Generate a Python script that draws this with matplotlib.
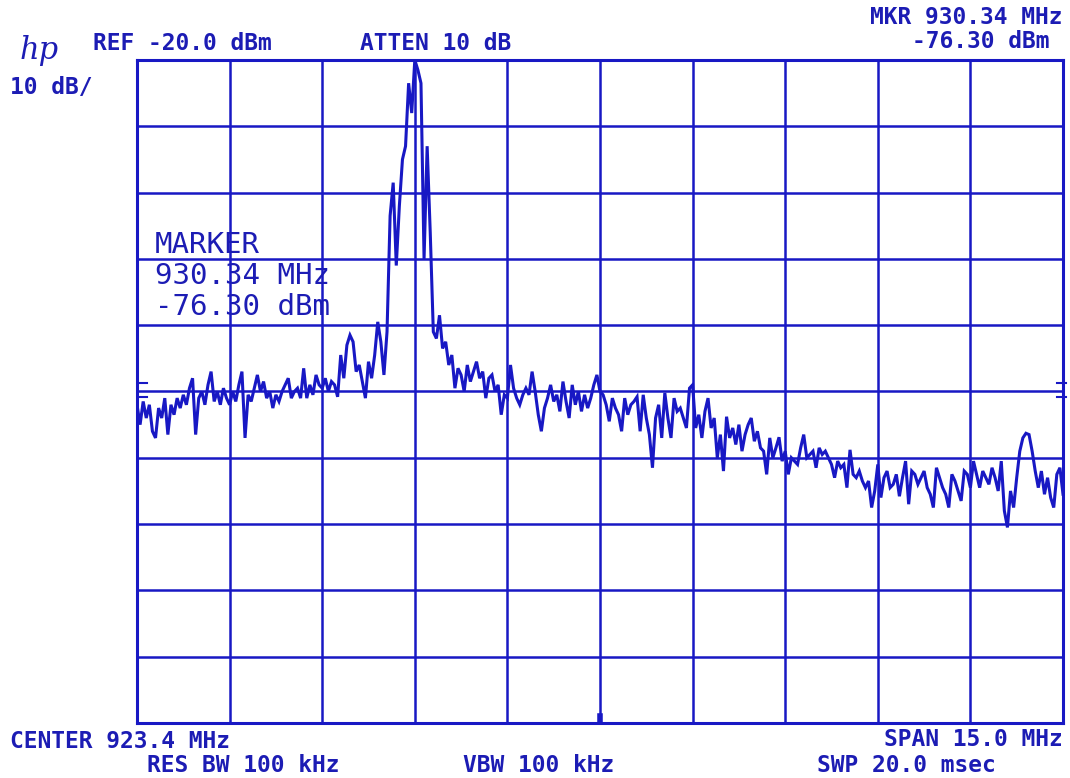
import numpy as np
import matplotlib.pyplot as plt

# analyzer settings
center_mhz = 923.4
span_mhz = 15.0
ref_dbm = -20.0
db_per_div = 10.0
n_div = 10

# trace, 301 points across the span, dBm
trace_dbm = [
    # div 0
    -72, -75, -71.5, -74, -72, -76, -77, -72.5, -74, -71,
    -76.5, -72, -73.5, -71, -72.5, -70.5, -72, -69.5, -68, -76.5,
    -71, -70, -72, -69, -67, -71.5, -70, -72, -69.5, -71,
    # div 1
    -72, -70, -71.5, -69, -67, -77, -70.5, -71.5, -69.5, -67.5,
    -70, -68.5, -71, -70, -72.5, -70.5, -71.5, -70, -69, -68,
    -71, -70, -69.5, -71, -66.5, -71, -69, -70.5, -67.5, -69,
    # div 2
    -69.5, -68, -70, -68.5, -69, -70.8, -64.5, -68, -63, -61.5,
    -62.5, -67, -66, -68.5, -71, -65.5, -68, -64.5, -59.5, -62.5,
    -67.5, -61, -43.5, -38.5, -51, -42, -35, -33, -23.5, -28,
    # div 3
    -20, -21.5, -23.5, -50, -33, -46, -61, -62, -58.5, -63.5,
    -62.5, -66, -64.5, -69.5, -66.5, -67.5, -70, -66, -68.5, -67,
    -65.5, -68, -67, -71, -68, -67.5, -70, -69, -73.5, -70.5,
    # div 4
    -71, -66, -69.5, -71, -72, -70.5, -69.5, -70.5, -67, -70,
    -73.5, -76, -72.5, -71, -69, -71.5, -70.5, -73, -68.5, -71.5,
    -74, -69, -72, -70, -73, -70.5, -72.5, -71, -69, -67.5,
    # div 5
    -70, -70.5, -72, -74.5, -71, -72.5, -73.5, -76, -71, -73.5,
    -72, -71.5, -70.8, -76, -70.5, -74, -76.5, -81.5, -74, -72,
    -77, -70.2, -74, -77, -71, -73, -72.5, -74, -75.5, -69.5,
    # div 6
    -69, -75.5, -73.5, -77, -73, -71, -75.5, -74, -80, -76.5,
    -82, -73.8, -77, -75.5, -78, -75, -79, -76.5, -75, -74,
    -77.5, -76, -78.5, -79, -82.5, -77, -80, -78.5, -76.9, -80.5,
    # div 7
    -79, -82.5, -80, -80.5, -81, -78.5, -76.5, -80, -79.5, -79,
    -81.5, -78.5, -79.5, -79, -80, -81, -83, -80.5, -81.5, -81,
    -84.5, -78.8, -82.5, -83, -82, -83.5, -84.5, -83.5, -87.5, -85,
    # div 8
    -81, -86, -83, -82, -84.5, -84, -82.5, -85.8, -83, -80.5,
    -87, -82, -82.5, -84, -83, -82, -84.5, -85.5, -87.5, -81.5,
    -83, -84.5, -85.5, -87.5, -82.5, -83.5, -85, -86.5, -82, -82.5,
    # div 9
    -84.5, -80.5, -82.5, -84.5, -82, -83, -84, -81.5, -83, -85,
    -80.5, -88, -90.5, -85, -87.5, -83, -79, -77, -76.3, -76.5,
    -79, -82, -84.5, -82, -85.5, -83, -86, -87.5, -82.5, -81.5,
    -85.5,
]

# little level marks on the left/right edges
edge_marks_dbm = [-68.7, -70.8]

header_left = ["REF -20.0 dBm", "ATTEN 10 dB"]
marker_lines = ["MARKER", "930.34 MHz", "-76.30 dBm"]

blue = '#1818c4'
txt_blue = '#1c1cb4'

f_start = center_mhz - span_mhz / 2
f_stop = center_mhz + span_mhz / 2
bottom_dbm = ref_dbm - n_div * db_per_div
freq = np.linspace(f_start, f_stop, len(trace_dbm))

W, H = 1070, 778
fig = plt.figure(figsize=(W / 100, H / 100), dpi=100)
ax = fig.add_axes([137 / W, 1 - 723 / H, 926 / W, 663 / H])

ax.plot(freq, trace_dbm, color=blue, lw=2.2, solid_joinstyle='miter')

ax.set_xlim(f_start, f_stop)
ax.set_ylim(bottom_dbm, ref_dbm)
ax.set_xticks(np.linspace(f_start, f_stop, n_div + 1))
ax.set_yticks(np.linspace(bottom_dbm, ref_dbm, n_div + 1))
ax.grid(True, color=blue, lw=1.8)
ax.tick_params(length=0, labelbottom=False, labelleft=False)
for sp in ax.spines.values():
    sp.set_color(blue)
    sp.set_linewidth(2.2)

# edge marks and centre marker on the bottom line
for lvl in edge_marks_dbm:
    ax.plot([f_start, f_start + 0.17], [lvl, lvl], color=blue, lw=1.5)
    ax.plot([f_stop - 0.1, f_stop + 0.05], [lvl, lvl], color=blue, lw=1.5, clip_on=False)
ax.plot([center_mhz, center_mhz], [bottom_dbm, bottom_dbm + 1.0], color=blue, lw=4)

mono = 'DejaVu Sans Mono'


def ftext(x, y, s, ha='left', size=16.5, weight='bold'):
    fig.text(x / W, 1 - y / H, s, ha=ha, va='center', color=txt_blue,
             family=mono, fontsize=size, fontweight=weight)


ftext(93, 43, header_left[0])
ftext(360, 43, header_left[1])
ftext(10, 88, "10 dB/")
ftext(1062, 17, "MKR 930.34 MHz", ha='right')
ftext(1050, 42, "-76.30 dBm", ha='right')
ftext(10, 741, "CENTER 923.4 MHz")
ftext(147, 765, "RES BW 100 kHz")
ftext(463, 765, "VBW 100 kHz")
ftext(1063, 739, "SPAN 15.0 MHz", ha='right')
ftext(817, 765, "SWP 20.0 msec")

fig.text(20 / W, 1 - 50 / H, "hp", color=txt_blue, fontsize=22, style='italic',
         family='DejaVu Serif', va='center')

for k, line in enumerate(marker_lines):
    ftext(155, 245 + 31 * k, line, size=21, weight='normal')

fig.savefig('out.png', dpi=100, facecolor='white')
